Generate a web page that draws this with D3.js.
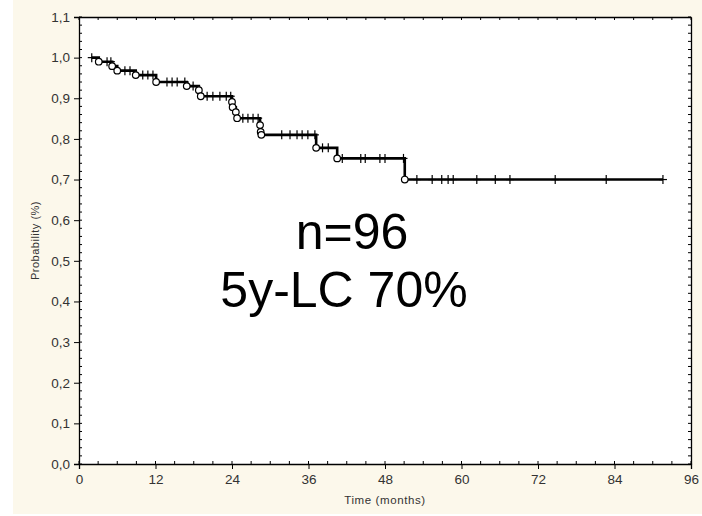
<!DOCTYPE html>
<html>
<head>
<meta charset="utf-8">
<script src="https://cdn.jsdelivr.net/npm/d3@7"></script>
<style>
  body { margin: 0; background: #fff; }
  text { font-family: "Liberation Sans", Arial, sans-serif; }
</style>
</head>
<body>
<div id="chart"></div>
<script>
// Kaplan-Meier estimate
const eventTimes = [3.1, 5.2, 6.0, 8.9, 12.1, 16.9, 18.8, 19.1, 24.0, 24.1, 24.6, 24.8, 28.4, 28.5, 28.6, 37.2, 40.5, 51.1];
const eventSurv  = [0.99, 0.979, 0.968, 0.957, 0.94, 0.93, 0.92, 0.905, 0.891, 0.878, 0.866, 0.851, 0.834, 0.817, 0.81, 0.778, 0.752, 0.70];
const censorTimes = [2.0, 4.4, 5.0, 7.2, 8.0, 10.0, 10.8, 11.6, 13.8, 14.6, 15.4, 16.6, 17.9,
    20.1, 21.0, 22.1, 23.1, 23.8, 25.7, 26.5, 27.3, 28.1,
    31.8, 33.1, 34.2, 35.0, 35.9, 37.0, 38.2, 39.1,
    41.3, 44.2, 44.9, 47.2, 48.0, 50.9,
    53.0, 55.4, 56.9, 57.9, 58.7, 62.4, 65.3, 67.6, 74.7, 82.7, 91.6];
const startTime = 2.0;
const endTime = 91.6;

const xTicks = [0, 12, 24, 36, 48, 60, 72, 84, 96];
const yTicks = [0, 0.1, 0.2, 0.3, 0.4, 0.5, 0.6, 0.7, 0.8, 0.9, 1.0, 1.1];
const noteLines = ["n=96", "5y-LC 70%"];

const W = 702, H = 516;
const margin = {top: 17, right: 11, bottom: 52, left: 79};
const width = W - margin.left - margin.right;
const height = H - margin.top - margin.bottom;

const svg = d3.select("#chart").append("svg")
    .attr("width", W)
    .attr("height", H);

// cream page behind the plot
svg.append("rect")
    .attr("x", 13).attr("y", 0)
    .attr("width", W - 13).attr("height", 514)
    .attr("fill", "#fcf8eb");

const g = svg.append("g")
    .attr("transform", "translate(" + margin.left + "," + margin.top + ")");

const x = d3.scaleLinear().domain([0, 96]).range([0, width]);
const y = d3.scaleLinear().domain([0, 1.1]).range([height, 0]);

g.append("rect")
    .attr("width", width).attr("height", height)
    .attr("fill", "#fff");

// survival at time t (step function)
function survAt(t) {
    let s = 1.0;
    eventTimes.forEach((e, i) => { if (e <= t) s = eventSurv[i]; });
    return s;
}

const xMinor = d3.range(0, 97, 3);
const yMinor = d3.range(0, 1.101, 0.02);

// minor ticks, inside the frame on all four sides
const minor = g.append("g").attr("stroke", "#000").attr("stroke-width", 1);
xMinor.forEach(t => {
    minor.append("line").attr("x1", x(t)).attr("x2", x(t)).attr("y1", height).attr("y2", height - 3);
    minor.append("line").attr("x1", x(t)).attr("x2", x(t)).attr("y1", 0).attr("y2", 3);
});
yMinor.forEach(p => {
    minor.append("line").attr("x1", 0).attr("x2", 3).attr("y1", y(p)).attr("y2", y(p));
    minor.append("line").attr("x1", width).attr("x2", width - 3).attr("y1", y(p)).attr("y2", y(p));
});

const fmt = d => d3.format(".1f")(d).replace(".", ",");

const xAxis = g.append("g")
    .attr("transform", "translate(0," + height + ")")
    .call(d3.axisBottom(x).tickValues(xTicks).tickSize(5).tickPadding(5));
const yAxis = g.append("g")
    .call(d3.axisLeft(y).tickValues(yTicks).tickFormat(fmt).tickSize(5).tickPadding(4));
g.append("g")
    .call(d3.axisTop(x).tickValues(xTicks).tickSize(0).tickFormat(""));
g.append("g")
    .attr("transform", "translate(" + width + ",0)")
    .call(d3.axisRight(y).tickValues(yTicks).tickSize(0).tickFormat(""));

g.selectAll(".domain").attr("stroke", "#000").attr("stroke-width", 1.3);
[xAxis, yAxis].forEach(a => {
    a.selectAll("text")
        .attr("fill", "#333")
        .style("font-size", "13.5px");
});

// axis titles
g.append("text")
    .attr("x", x(48)).attr("y", height + 40)
    .attr("text-anchor", "middle")
    .attr("fill", "#333")
    .style("font-size", "11.5px")
    .style("letter-spacing", "0.6px")
    .text("Time (months)");

g.append("text")
    .attr("transform", "translate(-40," + (height / 2) + ") rotate(-90)")
    .attr("text-anchor", "middle")
    .attr("fill", "#333")
    .style("font-size", "11px")
    .style("letter-spacing", "0.5px")
    .text("Probability (%)");

// step curve
const pts = [[startTime, 1.0]];
eventTimes.forEach((t, i) => pts.push([t, eventSurv[i]]));
pts.push([endTime, survAt(endTime)]);

g.append("path")
    .datum(pts)
    .attr("fill", "none")
    .attr("stroke", "#000")
    .attr("stroke-width", 2.6)
    .attr("d", d3.line()
        .x(d => x(d[0]))
        .y(d => y(d[1]))
        .curve(d3.curveStepAfter));

// censored marks
const plus = g.append("g").attr("stroke", "#000").attr("stroke-width", 1.2);
censorTimes.forEach(t => {
    const cx = x(t), cy = y(survAt(t));
    plus.append("line").attr("x1", cx - 4).attr("x2", cx + 4).attr("y1", cy).attr("y2", cy);
    plus.append("line").attr("x1", cx).attr("x2", cx).attr("y1", cy - 4.5).attr("y2", cy + 4.5);
});

// complete observations
g.selectAll(".event")
    .data(eventTimes)
    .enter().append("circle")
    .attr("class", "event")
    .attr("cx", d => x(d))
    .attr("cy", (d, i) => y(eventSurv[i]))
    .attr("r", 3.3)
    .attr("fill", "#fff")
    .attr("stroke", "#000")
    .attr("stroke-width", 1.2);

// annotation
g.selectAll(".note")
    .data(noteLines)
    .enter().append("text")
    .attr("class", "note")
    .attr("x", (d, i) => i === 0 ? 273 : 265)
    .attr("y", (d, i) => 232 + i * 58)
    .attr("text-anchor", "middle")
    .attr("fill", "#000")
    .style("font-size", "50px")
    .text(d => d);
</script>
</body>
</html>
